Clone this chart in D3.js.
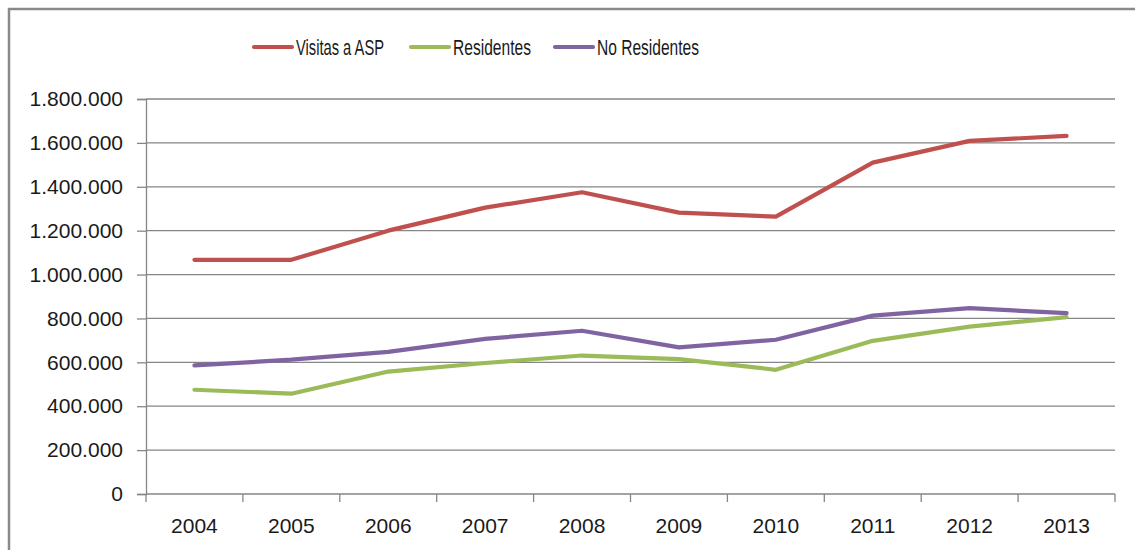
<!DOCTYPE html>
<html lang="es">
<head>
    <meta charset="UTF-8">
    <title>Visitas a ASP</title>
    <script src="https://d3js.org/d3.v7.min.js"></script>
</head>
<style>
    body {
        margin: 0;
        padding: 0;
        background: #fff;
    }
    svg {
        display: block;
        font-family: "Liberation Sans", Arial, sans-serif;
    }
</style>
<body>
<div class="chart"></div>
<script>
  /** DATA */
  var years = ['2004', '2005', '2006', '2007', '2008', '2009', '2010', '2011', '2012', '2013'];
  var visitasASP = [1067000, 1067000, 1200000, 1305000, 1375000, 1282000, 1264000, 1510000, 1609000, 1632000];
  var residentes = [475000, 457000, 558000, 597000, 631000, 615000, 566000, 698000, 763000, 806000];
  var noResidentes = [586000, 612000, 648000, 707000, 744000, 668000, 703000, 813000, 847000, 824000];
  var yTicks = [0, 200000, 400000, 600000, 800000, 1000000, 1200000, 1400000, 1600000, 1800000];

  var seriesNames = ['Visitas a ASP', 'Residentes', 'No Residentes'];
  var seriesValues = [visitasASP, residentes, noResidentes];
  var seriesColors = ['#C0504D', '#9BBB59', '#8064A2'];

  /** LAYOUT */
  var width = 1135, height = 550;
  var plotLeft = 146, plotRight = 1115, plotTop = 99, plotBottom = 494;

  var svg = d3.select('.chart').append('svg')
    .attr('width', width)
    .attr('height', height);

  // outer chart border (only top/left visible in the picture)
  svg.append('rect')
    .attr('x', 9).attr('y', 9)
    .attr('width', width + 20).attr('height', height + 20)
    .attr('fill', 'none')
    .attr('stroke', '#8a8a8a')
    .attr('stroke-width', 2.5);

  var x = d3.scaleBand().domain(years).range([plotLeft, plotRight]);
  var y = d3.scaleLinear().domain([0, 1800000]).range([plotBottom, plotTop]);

  // spanish thousands separator
  var fmt = d3.formatLocale({decimal: ',', thousands: '.', grouping: [3], currency: ['', '']}).format(',d');

  /** gridlines + y axis */
  var yAxis = svg.append('g')
    .attr('transform', 'translate(' + plotLeft + ',0)')
    .call(d3.axisLeft(y).tickValues(yTicks).tickFormat(fmt).tickSize(9).tickPadding(14));
  yAxis.select('.domain').attr('stroke', '#868686').attr('stroke-width', 1.3);
  yAxis.selectAll('.tick line').attr('stroke', '#868686').attr('stroke-width', 1.3);
  yAxis.selectAll('.tick text').attr('font-size', 21).attr('fill', '#1a1a1a')
    .attr('font-family', '"Liberation Sans", Arial, sans-serif');

  svg.append('g').selectAll('line')
    .data(yTicks.filter(function (d) { return d > 0; }))
    .enter().append('line')
    .attr('x1', plotLeft).attr('x2', plotRight)
    .attr('y1', function (d) { return y(d); })
    .attr('y2', function (d) { return y(d); })
    .attr('stroke', '#868686')
    .attr('stroke-width', 1.3);

  /** x axis: ticks between categories */
  var xAxis = svg.append('g')
    .attr('transform', 'translate(0,' + plotBottom + ')');
  xAxis.append('line')
    .attr('x1', plotLeft).attr('x2', plotRight)
    .attr('stroke', '#868686').attr('stroke-width', 1.3);
  var tickPos = years.map(function (d) { return x(d); }).concat([plotRight]);
  xAxis.selectAll('line.tk')
    .data(tickPos)
    .enter().append('line')
    .classed('tk', true)
    .attr('x1', function (d) { return d; }).attr('x2', function (d) { return d; })
    .attr('y1', 0).attr('y2', 8)
    .attr('stroke', '#868686').attr('stroke-width', 1.3);
  xAxis.selectAll('text')
    .data(years)
    .enter().append('text')
    .attr('x', function (d) { return x(d) + x.bandwidth() / 2; })
    .attr('y', 39)
    .attr('text-anchor', 'middle')
    .attr('font-size', 21)
    .attr('fill', '#1a1a1a')
    .text(function (d) { return d; });

  /** lines */
  var line = d3.line()
    .x(function (d, i) { return x(years[i]) + x.bandwidth() / 2; })
    .y(function (d) { return y(d); });

  svg.append('g').selectAll('path')
    .data(seriesValues)
    .enter().append('path')
    .attr('d', line)
    .attr('fill', 'none')
    .attr('stroke', function (d, i) { return seriesColors[i]; })
    .attr('stroke-width', 4.2)
    .attr('stroke-linejoin', 'round')
    .attr('stroke-linecap', 'round');

  /** legend (text squeezed to the narrow widths of the original font) */
  var legendX = [253, 410, 554];
  var legendTextW = [88, 78, 102];
  var legend = svg.append('g').selectAll('g')
    .data(seriesNames)
    .enter().append('g')
    .attr('transform', function (d, i) { return 'translate(' + legendX[i] + ',47)'; });
  legend.append('line')
    .attr('x1', 1).attr('x2', 39)
    .attr('stroke', function (d, i) { return seriesColors[i]; })
    .attr('stroke-width', 4.2)
    .attr('stroke-linecap', 'round');
  legend.append('text')
    .attr('x', 43)
    .attr('y', 8)
    .attr('font-size', 22.5)
    .attr('fill', '#1a1a1a')
    .attr('textLength', function (d, i) { return legendTextW[i]; })
    .attr('lengthAdjust', 'spacingAndGlyphs')
    .text(function (d) { return d; });
</script>
</body>
</html>
